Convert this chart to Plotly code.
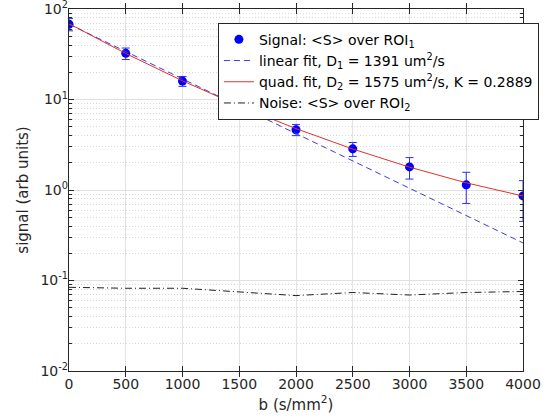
import plotly.graph_objects as go

# ---- data ----
b_vals = [0, 500, 1000, 1500, 2000, 2500, 3000, 3500, 4000]
signal = [68.0, 32.4, 16.0, 8.5, 4.64, 2.85, 1.80, 1.14, 0.86]
signal_err = [10.5, 4.7, 2.0, 1.2, 0.65, 0.5, 0.48, 0.43, 0.41]
lin_fit = [68.1, 34.0, 16.9, 8.45, 4.21, 2.10, 1.05, 0.52, 0.26]
quad_fit = [69.0, 32.3, 16.1, 8.50, 4.77, 2.84, 1.79, 1.20, 0.858]
noise = [0.084, 0.082, 0.082, 0.074, 0.068, 0.0736, 0.069, 0.0736, 0.0755]

x_ticks = [0, 500, 1000, 1500, 2000, 2500, 3000, 3500, 4000]
y_tickvals = [0.01, 0.1, 1, 10, 100]
y_ticktext = ["10<sup>-2</sup>", "10<sup>-1</sup>", "10<sup>0</sup>", "10<sup>1</sup>", "10<sup>2</sup>"]

names = [
    "Signal: &lt;S&gt; over ROI<sub>1</sub>",
    "linear fit, D<sub>1</sub> = 1391 um<sup>2</sup>/s",
    "quad. fit, D<sub>2</sub> = 1575 um<sup>2</sup>/s, K = 0.2889",
    "Noise: &lt;S&gt; over ROI<sub>2</sub>",
]

FONT = "DejaVu Sans"
AX = "#262626"
YRANGE = [-2.001, 2.001]

fig = go.Figure()
fig.add_trace(go.Scatter(
    x=b_vals, y=signal, mode="markers", name=names[0],
    marker=dict(color="#0000ff", size=9),
    error_y=dict(type="data", array=signal_err, color="#3030f0", thickness=1, width=4),
))
fig.add_trace(go.Scatter(
    x=b_vals, y=lin_fit, mode="lines", name=names[1],
    line=dict(color="#3c3cd8", width=1, dash="6px,4px"),
))
fig.add_trace(go.Scatter(
    x=b_vals, y=quad_fit, mode="lines", name=names[2],
    line=dict(color="#e03030", width=1),
))
# noise drawn against the labelled overlay axis (identical log scale)
fig.add_trace(go.Scatter(
    x=b_vals, y=noise, mode="lines", name=names[3], yaxis="y2",
    line=dict(color="#202020", width=1, dash="7px,3px,1px,3px"),
))

fig.update_layout(
    width=548, height=418, autosize=False,
    margin=dict(l=69, r=13, t=9, b=47),
    paper_bgcolor="white", plot_bgcolor="white",
    font=dict(family=FONT, size=14, color=AX),
    showlegend=True,
    legend=dict(
        x=0.328, y=0.962, xanchor="left", yanchor="top",
        bgcolor="white", bordercolor=AX, borderwidth=1,
        font=dict(family=FONT, size=14, color="#000000"),
        tracegroupgap=0,
    ),
    xaxis=dict(
        range=[0, 4000], tickvals=x_ticks, ticks="inside", ticklen=5, tickcolor=AX,
        showline=True, linecolor=AX, linewidth=1, mirror="allticks",
        showgrid=True, gridcolor="#e3e3e3", gridwidth=1, zeroline=False,
        title=dict(text="b (s/mm<sup>2</sup>)", font=dict(family=FONT, size=15, color=AX), standoff=8),
        tickfont=dict(family=FONT, size=14, color=AX),
        ticklabeloverflow="allow", automargin=False,
    ),
    yaxis=dict(
        type="log", range=YRANGE, tickmode="linear", tick0=0, dtick=1,
        showticklabels=False, automargin=False,
        ticks="inside", ticklen=5, tickcolor=AX,
        showline=True, linecolor=AX, linewidth=1, mirror="allticks",
        showgrid=True, gridcolor="#e0e0e0", gridwidth=1, zeroline=False,
        minor=dict(dtick="D1", ticks="inside", ticklen=3, tickcolor=AX, showgrid=True,
                   gridcolor="#d6d6d6", griddash="1px,2px", gridwidth=1),
    ),
    yaxis2=dict(
        type="log", range=YRANGE, overlaying="y", side="left",
        tickvals=y_tickvals, ticktext=y_ticktext, ticks="",
        showgrid=False, zeroline=False, showline=False,
        tickfont=dict(family=FONT, size=14, color=AX),
        ticklabeloverflow="allow", automargin=False,
        title=dict(text="signal (arb units)", font=dict(family=FONT, size=15, color=AX), standoff=8),
    ),
)

fig.write_html("out.html")
